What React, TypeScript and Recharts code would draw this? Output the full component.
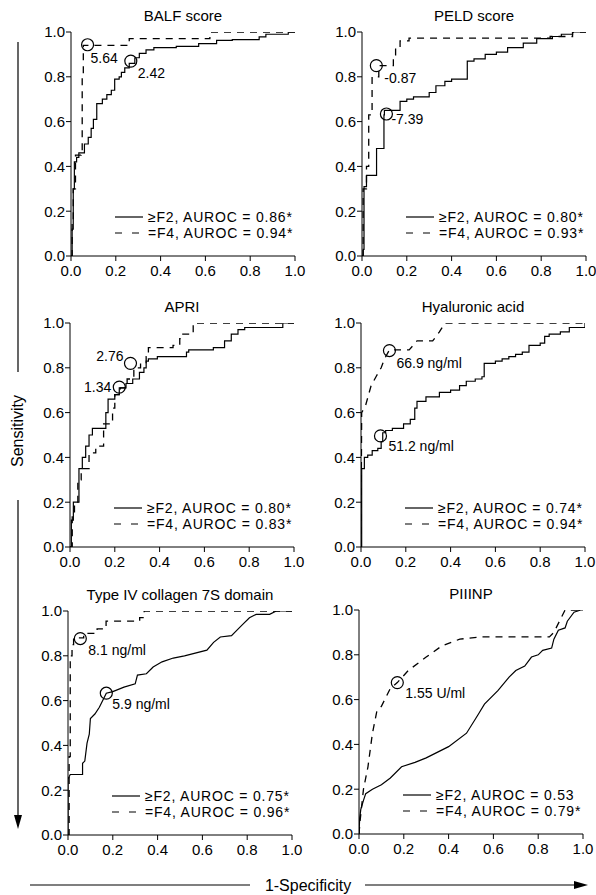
import React from 'react';
import { ComposedChart, Line, XAxis, YAxis, ReferenceDot } from 'recharts';

const FONT = '"Liberation Sans", Arial, Helvetica, sans-serif';
const axisTicks = [0, 0.2, 0.4, 0.6, 0.8, 1];

// [1-specificity, sensitivity]
const balfF2 = [[0, 0], [0.005, 0.12], [0.01, 0.3], [0.015, 0.42], [0.025, 0.44], [0.035, 0.46], [0.06, 0.5], [0.077, 0.53], [0.09, 0.57], [0.1, 0.61], [0.115, 0.68], [0.14, 0.7], [0.16, 0.72], [0.18, 0.74], [0.195, 0.79], [0.215, 0.8], [0.225, 0.82], [0.24, 0.84], [0.26, 0.86], [0.285, 0.885], [0.305, 0.905], [0.335, 0.92], [0.37, 0.93], [0.47, 0.936], [0.57, 0.948], [0.65, 0.963], [0.72, 0.966], [0.84, 0.978], [0.87, 0.99], [0.97, 1], [1, 1]];
const balfF4 = [[0, 0], [0.005, 0.15], [0.01, 0.3], [0.02, 0.45], [0.045, 0.47], [0.05, 0.8], [0.055, 0.94], [0.26, 0.97], [0.62, 1], [1, 1]];
const balfCut = [{ x: 0.074, y: 0.943, label: '5.64' }, { x: 0.267, y: 0.87, label: '2.42' }];

const peldF2 = [[0, 0], [0.005, 0.03], [0.009, 0.31], [0.02, 0.36], [0.065, 0.48], [0.098, 0.63], [0.1, 0.65], [0.17, 0.69], [0.2, 0.7], [0.23, 0.71], [0.3, 0.73], [0.33, 0.76], [0.37, 0.78], [0.4, 0.79], [0.47, 0.87], [0.5, 0.88], [0.55, 0.9], [0.6, 0.91], [0.65, 0.93], [0.72, 0.95], [0.78, 0.97], [0.85, 0.98], [0.89, 0.99], [0.94, 1], [1, 1]];
const peldF4 = [[0, 0], [0.005, 0.3], [0.02, 0.4], [0.03, 0.63], [0.045, 0.8], [0.075, 0.85], [0.14, 0.88], [0.15, 0.93], [0.17, 0.96], [0.21, 0.973], [0.84, 0.98], [0.94, 1], [1, 1]];
const peldCut = [{ x: 0.064, y: 0.85, label: '-0.87' }, { x: 0.109, y: 0.634, label: '-7.39' }];

const apriF2 = [[0, 0], [0.006, 0.12], [0.015, 0.2], [0.04, 0.35], [0.055, 0.4], [0.07, 0.45], [0.085, 0.5], [0.1, 0.53], [0.16, 0.6], [0.17, 0.66], [0.2, 0.68], [0.22, 0.71], [0.25, 0.73], [0.28, 0.75], [0.31, 0.78], [0.33, 0.8], [0.34, 0.83], [0.35, 0.84], [0.39, 0.85], [0.52, 0.87], [0.53, 0.88], [0.64, 0.89], [0.69, 0.92], [0.72, 0.95], [0.75, 0.97], [0.78, 0.98], [0.95, 1], [1, 1]];
const apriF4 = [[0, 0], [0.01, 0.15], [0.02, 0.2], [0.035, 0.3], [0.05, 0.35], [0.085, 0.42], [0.115, 0.45], [0.15, 0.55], [0.19, 0.62], [0.2, 0.68], [0.225, 0.71], [0.255, 0.75], [0.285, 0.8], [0.315, 0.82], [0.34, 0.85], [0.35, 0.89], [0.46, 0.9], [0.49, 0.93], [0.5, 0.95], [0.55, 1], [1, 1]];
const apriCut = [{ x: 0.27, y: 0.82, label: '2.76' }, { x: 0.22, y: 0.714, label: '1.34' }];

const haF2 = [[0, 0], [0.003, 0.35], [0.015, 0.4], [0.03, 0.41], [0.05, 0.43], [0.075, 0.44], [0.09, 0.47], [0.097, 0.51], [0.11, 0.52], [0.14, 0.53], [0.19, 0.55], [0.22, 0.57], [0.24, 0.62], [0.25, 0.65], [0.29, 0.67], [0.35, 0.69], [0.4, 0.7], [0.44, 0.72], [0.47, 0.74], [0.51, 0.75], [0.54, 0.76], [0.55, 0.82], [0.6, 0.83], [0.63, 0.84], [0.66, 0.85], [0.69, 0.86], [0.72, 0.87], [0.75, 0.9], [0.8, 0.91], [0.82, 0.94], [0.84, 0.95], [0.89, 0.96], [0.93, 0.98], [1, 1]];
const haF4 = [[0, 0], [0.003, 0.6], [0.02, 0.63], [0.045, 0.72], [0.067, 0.76], [0.09, 0.8], [0.105, 0.84], [0.127, 0.88], [0.215, 0.88], [0.25, 0.92], [0.32, 0.92], [0.35, 0.96], [0.375, 1], [1, 1]];
const haCut = [{ x: 0.127, y: 0.877, label: '66.9 ng/ml' }, { x: 0.087, y: 0.496, label: '51.2 ng/ml' }];

const colF2 = [[0, 0], [0, 0.25], [0.01, 0.27], [0.065, 0.27], [0.065, 0.32], [0.075, 0.33], [0.085, 0.41], [0.095, 0.45], [0.1, 0.52], [0.12, 0.54], [0.14, 0.57], [0.171, 0.633], [0.2, 0.64], [0.25, 0.66], [0.3, 0.675], [0.31, 0.714], [0.35, 0.72], [0.38, 0.75], [0.42, 0.773], [0.47, 0.79], [0.52, 0.8], [0.62, 0.825], [0.65, 0.86], [0.68, 0.884], [0.73, 0.89], [0.76, 0.92], [0.78, 0.94], [0.81, 0.97], [0.84, 0.985], [0.9, 0.985], [0.93, 1], [1, 1]];
const colF4 = [[0, 0], [0.005, 0.35], [0.01, 0.8], [0.018, 0.85], [0.025, 0.88], [0.07, 0.9], [0.13, 0.92], [0.17, 0.955], [0.32, 0.97], [0.34, 1], [1, 1]];
const colCut = [{ x: 0.055, y: 0.877, label: '8.1 ng/ml' }, { x: 0.171, y: 0.633, label: '5.9 ng/ml' }];

const p3F2 = [[0, 0], [0.003, 0.07], [0.008, 0.11], [0.02, 0.15], [0.03, 0.18], [0.06, 0.2], [0.1, 0.22], [0.14, 0.25], [0.19, 0.3], [0.25, 0.32], [0.3, 0.34], [0.4, 0.39], [0.48, 0.45], [0.53, 0.53], [0.56, 0.58], [0.62, 0.64], [0.67, 0.7], [0.7, 0.73], [0.74, 0.75], [0.77, 0.79], [0.8, 0.8], [0.82, 0.82], [0.86, 0.83], [0.87, 0.87], [0.89, 0.91], [0.92, 0.92], [0.93, 0.95], [0.96, 0.99], [0.99, 1], [1, 1]];
const p3F4 = [[0, 0], [0.005, 0.06], [0.02, 0.2], [0.04, 0.3], [0.06, 0.45], [0.08, 0.55], [0.1, 0.57], [0.14, 0.65], [0.171, 0.676], [0.22, 0.73], [0.3, 0.79], [0.37, 0.84], [0.45, 0.87], [0.55, 0.88], [0.85, 0.88], [0.87, 0.9], [0.9, 0.96], [0.92, 1], [1, 1]];
const p3Cut = [{ x: 0.171, y: 0.676, label: '1.55 U/ml' }];

const titles = ['BALF score', 'PELD score', 'APRI', 'Hyaluronic acid', 'Type IV collagen 7S domain', 'PIIINP'];
const aurocF2 = ['0.86*', '0.80*', '0.80*', '0.74*', '0.75*', '0.53'];
const aurocF4 = ['0.94*', '0.93*', '0.83*', '0.94*', '0.96*', '0.79*'];

const panels = [
  { f2: balfF2, f4: balfF4, cut: balfCut, f2Type: 'stepAfter', f4Type: 'stepAfter' },
  { f2: peldF2, f4: peldF4, cut: peldCut, f2Type: 'stepAfter', f4Type: 'stepAfter' },
  { f2: apriF2, f4: apriF4, cut: apriCut, f2Type: 'stepAfter', f4Type: 'stepAfter' },
  { f2: haF2, f4: haF4, cut: haCut, f2Type: 'stepAfter', f4Type: 'linear' },
  { f2: colF2, f4: colF4, cut: colCut, f2Type: 'linear', f4Type: 'stepAfter' },
  { f2: p3F2, f4: p3F4, cut: p3Cut, f2Type: 'linear', f4Type: 'linear' },
];

// plot-area position on the page and cut-off label offsets
const layout = [
  { left: 71, top: 32, lbl: [{ dx: 3, dy: 18, a: 'start' }, { dx: 7, dy: 17, a: 'start' }] },
  { left: 362, top: 32, lbl: [{ dx: 8, dy: 17, a: 'start' }, { dx: 5, dy: 10, a: 'start' }] },
  { left: 70, top: 323, lbl: [{ dx: -7, dy: -2, a: 'end' }, { dx: -8, dy: 5, a: 'end' }] },
  { left: 361, top: 323, lbl: [{ dx: 7, dy: 17, a: 'start' }, { dx: 8, dy: 15, a: 'start' }] },
  { left: 68, top: 611, lbl: [{ dx: 8, dy: 16, a: 'start' }, { dx: 6, dy: 16, a: 'start' }] },
  { left: 359, top: 610, lbl: [{ dx: 8, dy: 15, a: 'start' }] },
];

const PW = 224;
const PH = 224;
const ML = 45;
const MT = 10;

const toPts = (a: number[][]) => a.map(([x, y]) => ({ x, y }));
const fmt = (v: number) => v.toFixed(1);
const tickStyle = { fill: '#000', fontSize: 15, fontFamily: FONT };
const legendText = { marginLeft: 5, fontSize: 14, letterSpacing: '0.8px' };

function Panel({ idx }: { idx: number }) {
  const p = panels[idx];
  const pos = layout[idx];
  const w = ML + PW + 14;
  const h = MT + PH + 30;
  return (
    <div style={{ position: 'absolute', left: pos.left - ML, top: pos.top - MT, width: w, height: h }}>
      <ComposedChart width={w} height={h} margin={{ top: MT, right: 14, left: 5, bottom: 0 }}>
        <XAxis dataKey="x" type="number" domain={[0, 1]} ticks={axisTicks} tickFormatter={fmt}
          allowDataOverflow height={30} tickSize={5} tickMargin={4}
          axisLine={{ stroke: '#000' }} tickLine={{ stroke: '#000' }} tick={tickStyle} />
        <YAxis type="number" domain={[0, 1]} ticks={axisTicks} tickFormatter={fmt}
          allowDataOverflow width={40} tickSize={5} tickMargin={1}
          axisLine={{ stroke: '#000' }} tickLine={{ stroke: '#000' }} tick={tickStyle} />
        <Line data={toPts(p.f2)} dataKey="y" type={p.f2Type as any} stroke="#000" strokeWidth={1.2}
          dot={false} activeDot={false} isAnimationActive={false} />
        <Line data={toPts(p.f4)} dataKey="y" type={p.f4Type as any} stroke="#000" strokeWidth={1.3}
          strokeDasharray="7 6" dot={false} activeDot={false} isAnimationActive={false} />
        {p.cut.map((c, i) => {
          const o = pos.lbl[i];
          return (
            <ReferenceDot key={i} x={c.x} y={c.y} r={6} fill="none" stroke="#000"
              shape={(s: any) => (
                <g>
                  <circle cx={s.cx} cy={s.cy} r={6} fill="none" stroke="#000" strokeWidth={1.2} />
                  <text x={s.cx + o.dx} y={s.cy + o.dy} textAnchor={o.a as any} fontSize={14}
                    fontFamily={FONT} fill="#000">{c.label}</text>
                </g>
              )} />
          );
        })}
      </ComposedChart>
      <div style={{ position: 'absolute', left: ML, top: MT - 25, width: PW, textAlign: 'center', fontSize: 15, lineHeight: '18px', fontFamily: FONT }}>
        {titles[idx]}
      </div>
      <div style={{ position: 'absolute', left: ML + 44, top: MT + PH - 47, lineHeight: '16px', fontFamily: FONT, whiteSpace: 'nowrap' }}>
        <div style={{ display: 'flex', alignItems: 'center', height: 16 }}>
          <svg width={28} height={16}><line x1={0} x2={28} y1={8} y2={8} stroke="#000" strokeWidth={1.2} /></svg>
          <span style={legendText}>{'\u2265F2, AUROC = ' + aurocF2[idx]}</span>
        </div>
        <div style={{ display: 'flex', alignItems: 'center', height: 16 }}>
          <svg width={28} height={16}><line x1={0} x2={28} y1={8} y2={8} stroke="#000" strokeWidth={1.2} strokeDasharray="7 10" /></svg>
          <span style={legendText}>{'=F4, AUROC = ' + aurocF4[idx]}</span>
        </div>
      </div>
    </div>
  );
}

export default function App() {
  return (
    <div style={{ position: 'absolute', left: 0, top: 0, width: 596, height: 895, background: '#fff', fontFamily: FONT }}>
      {panels.map((_, i) => <Panel key={i} idx={i} />)}
      <svg width={596} height={895} style={{ position: 'absolute', left: 0, top: 0, pointerEvents: 'none' }}>
        <line x1={18} x2={18} y1={42} y2={372} stroke="#000" strokeWidth={1.2} />
        <line x1={18} x2={18} y1={500} y2={816} stroke="#000" strokeWidth={1.2} />
        <polygon points="14,815 22,815 18,829" fill="#000" />
        <text x={17} y={431} transform="rotate(-90 17 431)" textAnchor="middle" dominantBaseline="central"
          fontSize={16} fontFamily={FONT} fill="#000">Sensitivity</text>
        <line x1={30} x2={250} y1={885} y2={885} stroke="#000" strokeWidth={1.2} />
        <line x1={365} x2={576} y1={885} y2={885} stroke="#000" strokeWidth={1.2} />
        <polygon points="574,881 574,889 588,885" fill="#000" />
        <text x={308} y={885} textAnchor="middle" dominantBaseline="central"
          fontSize={16} fontFamily={FONT} fill="#000">1-Specificity</text>
      </svg>
    </div>
  );
}
